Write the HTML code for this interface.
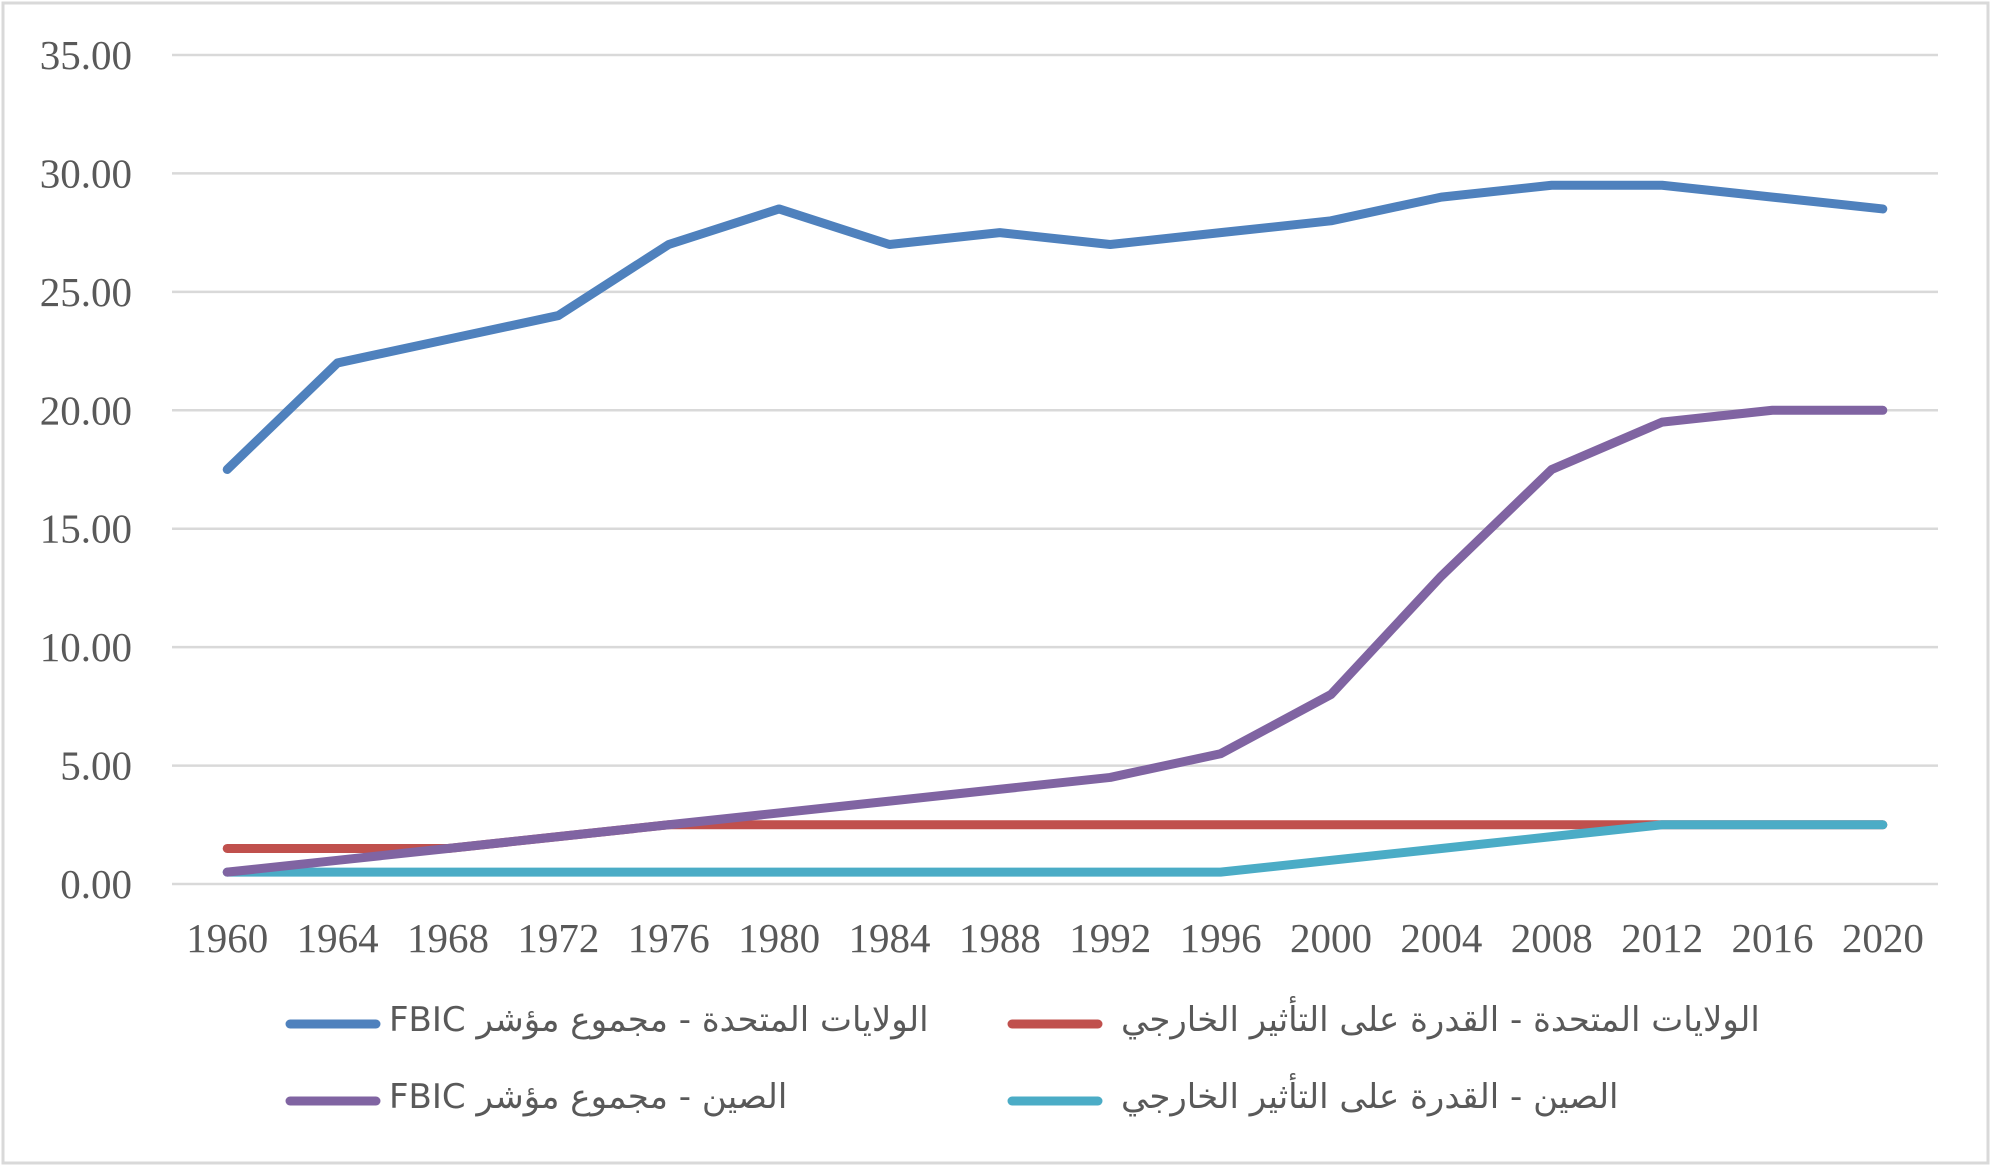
<!DOCTYPE html>
<html><head><meta charset="utf-8"><style>
body{margin:0;background:#fff}
#wrap{position:relative;width:1993px;height:1168px;overflow:hidden}
.leg{position:absolute;font-family:"DejaVu Sans","Liberation Sans",sans-serif;font-size:34px;color:#595959;direction:rtl;white-space:nowrap}
</style></head><body>
<div id="wrap">
<svg id="svg" width="1993" height="1168"></svg>
<div class="leg" style="left:389px;top:1000px">الولايات المتحدة - مجموع مؤشر FBIC</div>
<div class="leg" style="left:1121px;top:1000px">الولايات المتحدة - القدرة على التأثير الخارجي</div>
<div class="leg" style="left:389px;top:1077px">الصين - مجموع مؤشر FBIC</div>
<div class="leg" style="left:1121px;top:1077px">الصين - القدرة على التأثير الخارجي</div>
</div>
<script>
const years=["1960","1964","1968","1972","1976","1980","1984","1988","1992","1996","2000","2004","2008","2012","2016","2020"];
const usTotal=[17.5,22,23,24,27,28.5,27,27.5,27,27.5,28,29,29.5,29.5,29,28.5];
const usInfluence=[1.5,1.5,1.5,2,2.5,2.5,2.5,2.5,2.5,2.5,2.5,2.5,2.5,2.5,2.5,2.5];
const chinaTotal=[0.5,1,1.5,2,2.5,3,3.5,4,4.5,5.5,8,13,17.5,19.5,20,20];
const chinaInfluence=[0.5,0.5,0.5,0.5,0.5,0.5,0.5,0.5,0.5,0.5,1,1.5,2,2.5,2.5,2.5];
const yTicks=[0,5,10,15,20,25,30,35];
const yTickLabels=["0.00","5.00","10.00","15.00","20.00","25.00","30.00","35.00"];
const NS="http://www.w3.org/2000/svg";
const svg=document.getElementById('svg');
const L=172,R=1938,T=55,B=884;
const bw=(R-L)/years.length;
function xs(i){return L+bw*(i+0.5);}
function ys(v){return B-(v/35)*(B-T);}
function mk(t,a){const e=document.createElementNS(NS,t);for(const k in a)e.setAttribute(k,a[k]);svg.appendChild(e);return e;}
const fr=mk('rect',{x:3,y:3,width:1985,height:1160,fill:'none',stroke:'#d9d9d9','stroke-width':3});


yTicks.forEach((v,i)=>{
 const g=mk('line',{x1:L,x2:R,y1:ys(v),y2:ys(v),stroke:'#d9d9d9','stroke-width':2.5});
 
 
 const t=mk('text',{x:132,y:ys(v)+14,'text-anchor':'end','font-family':'Liberation Serif, serif','font-size':41,fill:'#595959'});
 t.textContent=yTickLabels[i];
 
 
});
years.forEach((y,i)=>{
 const t=mk('text',{x:xs(i),y:952,'text-anchor':'middle','font-family':'Liberation Serif, serif','font-size':41,fill:'#595959'});
 t.textContent=y;
 
 
});
const series=[[usInfluence,'#c0504d','us-influence-line'],[chinaInfluence,'#4bacc6','china-influence-line'],[usTotal,'#4f81bd','us-total-line'],[chinaTotal,'#8064a2','china-total-line']];
series.forEach(s=>{
 const p=mk('polyline',{points:s[0].map((v,i)=>xs(i)+','+ys(v)).join(' '),fill:'none',stroke:s[1],'stroke-width':9,'stroke-linecap':'round','stroke-linejoin':'round'});
 
 
});
[[290,1024,'#4f81bd'],[1012,1024,'#c0504d'],[290,1101,'#8064a2'],[1012,1101,'#4bacc6']].forEach(m=>{
 const l=mk('line',{x1:m[0],x2:m[0]+86,y1:m[1],y2:m[1],stroke:m[2],'stroke-width':9,'stroke-linecap':'round'});
 
 
});
</script>
</body></html>
